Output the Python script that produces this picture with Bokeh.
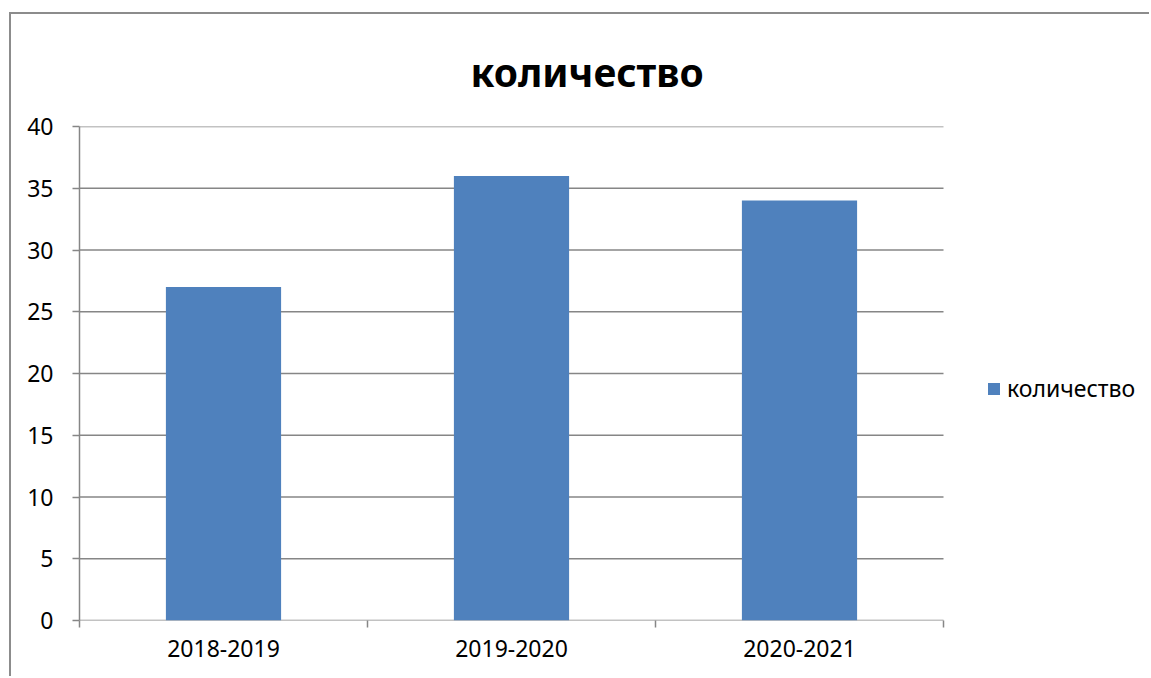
from bokeh.plotting import figure
from bokeh.models import Range1d, FixedTicker, Title, Legend, LegendItem
from bokeh.embed import file_html
from bokeh.resources import INLINE

# ---- data ----
categories = ["2018-2019", "2019-2020", "2020-2021"]
values = [27, 36, 34]
series_name = "количество"
chart_title = "количество"
y_ticks = [0, 5, 10, 15, 20, 25, 30, 35, 40]

FONT = "Noto Sans"
GRID = "#868686"
BAR = "#4F81BD"

n = len(categories)
xs = [i + 0.5 for i in range(n)]

# layout (pixels)
W, H = 1140, 664
B_LEFT, B_RIGHT, B_TOP, B_BOTTOM = 68, 6, 112, 58
CAT_PX = 288                       # width of one category slot
frame_w = W - B_LEFT - B_RIGHT
x_end = frame_w / CAT_PX           # frame also hosts the legend area on the right

p = figure(width=W, height=H, output_backend="svg", toolbar_location=None,
           x_range=Range1d(0, x_end), y_range=Range1d(y_ticks[0], y_ticks[-1]),
           min_border_left=B_LEFT, min_border_right=B_RIGHT,
           min_border_top=B_TOP, min_border_bottom=B_BOTTOM)
p.styles = {"border-left": "2px solid #8c8c8c", "border-top": "2px solid #8c8c8c",
            "margin-left": "9px", "margin-top": "12px"}
p.outline_line_color = None
p.background_fill_color = "white"
p.border_fill_color = "white"

# horizontal gridlines across the category area only
p.segment(x0=[0] * len(y_ticks), x1=[n] * len(y_ticks), y0=y_ticks, y1=y_ticks,
          line_color=GRID, line_width=1.5)

bars = p.vbar(x=xs, top=values, width=0.4, color=BAR, line_color=None)

# x axis: labels at centers, ticks at category boundaries
xa = p.xaxis[0]
xa.ticker = FixedTicker(ticks=xs, minor_ticks=list(range(n + 1)))
xa.major_label_overrides = {x: c for x, c in zip(xs, categories)}
xa.major_tick_out = 0
xa.major_tick_in = 0
xa.minor_tick_out = 7
xa.minor_tick_in = 0
xa.minor_tick_line_color = GRID
xa.minor_tick_line_width = 1.5
xa.axis_line_color = None
xa.major_label_text_font = FONT
xa.major_label_text_font_size = "23px"
xa.major_label_text_color = "black"
xa.major_label_standoff = 12

ya = p.yaxis[0]
ya.ticker = FixedTicker(ticks=y_ticks)
ya.major_tick_out = 7
ya.major_tick_in = 0
ya.minor_tick_line_color = None
ya.major_tick_line_color = GRID
ya.major_tick_line_width = 1.5
ya.axis_line_color = GRID
ya.axis_line_width = 1.5
ya.major_label_text_font = FONT
ya.major_label_text_font_size = "23px"
ya.major_label_text_color = "black"
ya.major_label_standoff = 19

p.xgrid.visible = False
p.ygrid.visible = False

# title
p.title = Title(text=chart_title, align="left", offset=391, standoff=56,
                vertical_align="middle",
                text_font=FONT, text_font_style="bold", text_font_size="39px",
                text_color="black")

# legend (inside the frame, right of the category area)
lg = Legend(items=[LegendItem(label=series_name, renderers=[bars])],
            location=(907, 216), padding=0, margin=0, border_line_color=None,
            background_fill_alpha=0, glyph_width=15, glyph_height=15,
            label_height=15, label_standoff=6, label_text_font=FONT,
            label_text_font_size="23px", label_text_color="black")
p.add_layout(lg)

open("out.html", "w").write(file_html(p, INLINE))
